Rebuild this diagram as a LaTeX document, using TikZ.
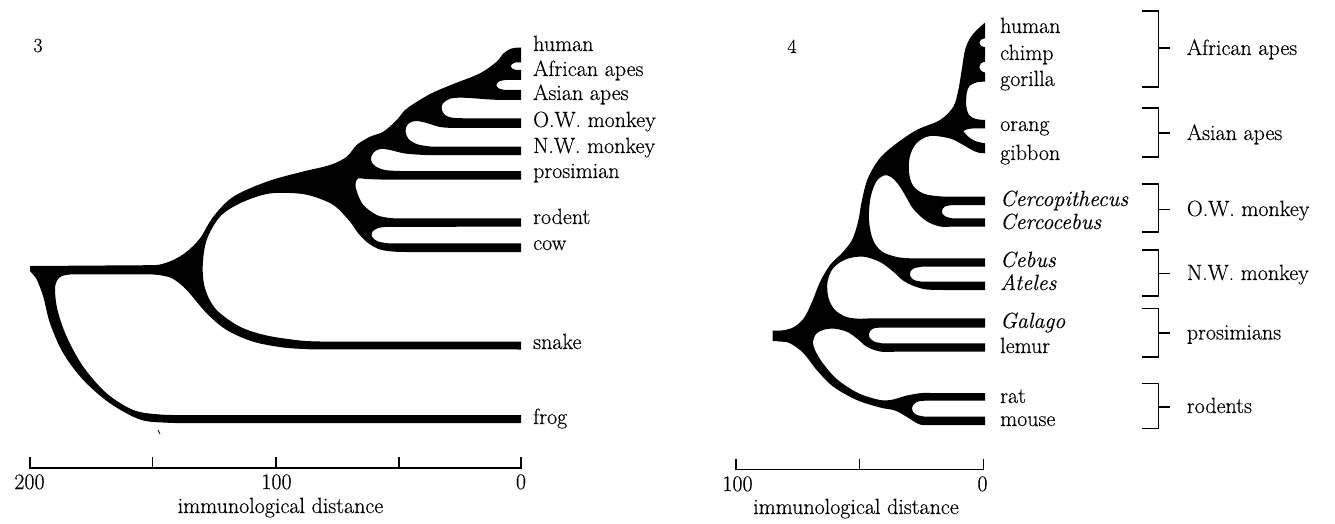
\documentclass[tikz,border=0pt]{standalone}
\usepackage{fontspec}
\setmainfont{Latin Modern Roman}[FakeBold=0.35]
\begin{document}
\begin{tikzpicture}[x=1pt,y=-1pt,
  lab/.style={anchor=base west, font=\fontsize{22}{24}\selectfont, inner sep=0pt},
  glab/.style={anchor=base west, font=\fontsize{22}{24}\selectfont, inner sep=0pt},
  num/.style={anchor=base, font=\fontsize{22}{24}\selectfont, inner sep=0pt},
  fignum/.style={anchor=base, font=\fontsize{20}{22}\selectfont, inner sep=0pt},
  axisline/.style={line width=1.2pt, line cap=butt},
  bracket/.style={line width=1.6pt, line join=miter},
  tree/.style={fill=black},
  smooth/.append style={tension=0.55}]
\useasboundingbox (0,0) rectangle (1335,524);

% ---------------- Figure 3 ----------------
\fill[tree] (521,47.5)
 -- plot[smooth] coordinates {(521,47.5) (511.7,48.5) (503.3,53.5) (496.7,61.7) (480,73.3) (453.3,84) (432,93) (415,103) (405,110) (396.7,120) (383.3,131.7) (370,136.7) (356.7,145) (346.7,156.7) (330,165) (300,172.3) (266.7,181.7) (233.3,196.7) (213.3,216.7) (200,238.3) (186.7,251.7) (173.3,260) (160,264.5) (150,265.2)}
 -- (30,266) -- (30,271)
 -- plot[smooth] coordinates {(30,271) (33,274.5) (37,280) (43.3,296.7) (50,323.3) (63.3,353.3) (83.3,380) (110,403.3) (140,419.5) (166.7,422.7) (190,423)}
 -- (521,423) -- (521,415) -- (190,415)
 -- plot[smooth] coordinates {(190,415) (160,414.5) (133.3,410) (106.7,393.3) (83.3,366.7) (66.7,336.7) (57.5,310) (55,290) (57,280.5) (62,276) (70,274.5) (80,274.3)}
 -- (150,274.3)
 -- plot[smooth] coordinates {(150,274.3) (162,275.5) (173.3,279) (186.7,290) (206.7,313.3) (226.7,330) (253.3,341.7) (283.3,347.5) (310,349.3)}
 -- (521,349.5) -- (521,341.5) -- (320,341.5)
 -- plot[smooth] coordinates {(320,341.5) (300,340.5) (266.7,335.5) (240,326.7) (216.7,310) (205.5,290) (202.7,266.7) (206.7,240) (220,216.7) (240,203.3) (266.7,194) (290,193) (310,195.5) (333.3,205) (350,221.7) (358,233) (368,243) (380,249.5) (395,251.7) (410,252)}
 -- (521,252) -- (521,243.3) -- (388,243.3)
 -- plot[smooth] coordinates {(388,243.3) (378,241.5) (372.5,237.5) (371.5,234.8) (372.5,231.5) (378,228) (388,226.8)}
 -- (521,226.7) -- (521,218.3) -- (400,218.3)
 -- plot[smooth] coordinates {(400,218.3) (390,218) (376.7,215) (363.3,205) (357,192) (355.5,184) (358,178.5) (366,179) (380,179.5)}
 -- (521,179.5) -- (521,171) -- (400,171)
 -- plot[smooth] coordinates {(400,171) (385,170) (375,166) (371,160) (373,153) (380,149) (390,150) (405,153.5) (425,155)}
 -- (521,155) -- (521,146.7) -- (432,146.7)
 -- plot[smooth] coordinates {(432,146.7) (418,144.5) (408.5,139) (405.5,131) (408,124) (415,121) (425,122.5) (440,127) (455,128)}
 -- (521,128) -- (521,118.3) -- (465,118.3)
 -- plot[smooth] coordinates {(465,118.3) (452,117.7) (445,115) (442,110) (442.5,104) (450,98.7) (463,97.7) (487,99.3) (500,100)}
 -- (521,100) -- (521,90) -- (505,90)
 -- plot[smooth] coordinates {(505,90) (499,88.5) (496.3,85) (499,81.5) (505,80)}
 -- (521,80) -- (521,70) -- (516,70)
 -- plot[smooth] coordinates {(516,70) (512,68.3) (510.8,66.2) (512,64) (516,62.3)}
 -- (521,62.3) -- cycle;

% small scan mark
\draw[line width=0.7pt] (158,430) -- (160,434);

\node[fignum] (n3) at (38,52) {3};
\node[lab] (t3a) at (533,51) {human};
\node[lab] (t3b) at (533,76) {African apes};
\node[lab] (t3c) at (533,100) {Asian apes};
\node[lab] (t3d) at (533,127) {O.W. monkey};
\node[lab] (t3e) at (533,153) {N.W. monkey};
\node[lab] (t3f) at (533,178) {prosimian};
\node[lab] (t3g) at (533,224) {rodent};
\node[lab] (t3h) at (533,250) {cow};
\node[lab] (t3i) at (533,349) {snake};
\node[lab] (t3j) at (533,424) {frog};

% axis 3
\draw[axisline] (30,457) -- (30,468) -- (521,468) -- (521,457);
\draw[axisline] (152.5,457) -- (152.5,468);
\draw[axisline] (276,457) -- (276,468);
\draw[axisline] (399,457) -- (399,468);
\node[num] (a3a) at (29.5,489) {200};
\node[num] (a3b) at (276.5,489) {100};
\node[num] (a3c) at (521,489) {0};
\node[num] (a3d) at (280.5,513) {immunological distance};

% ---------------- Figure 4 ----------------
\fill[tree] (985,22.7)
 -- plot[smooth] coordinates {(985,22.7) (976.7,30) (970,38.3) (965,50) (961.7,70) (958.3,90) (953.3,106.7) (940,120) (916.7,130) (896.7,143.3) (880,158) (868,178) (862,200) (858,222) (852,240) (842,253) (830,265) (820,282) (812,302) (804,318) (794,327) (783,330.3) (775,330.5)}
 -- (772.5,330.5) -- (772.5,341)
 -- plot[smooth] coordinates {(772.5,341) (780,341.5) (790,343.3) (803.3,353) (816.7,370) (833.3,386.7) (856.7,400) (880,407.5) (895,410.5) (907,417) (920,424.5) (935,425)}
 -- (985,425) -- (985,416.7) -- (925,416.7)
 -- plot[smooth] coordinates {(925,416.7) (917,415) (913,412) (912,408.7) (913.5,404.5) (918,401.5) (925,400.7)}
 -- (985,400.7) -- (985,393) -- (930,393)
 -- plot[smooth] coordinates {(930,393) (920,393.2) (905,396) (893,399.5) (880,400) (858,393) (836.7,379) (822,362) (815,350) (813,342) (816,334) (823,330) (833.3,328.5) (846.7,331.7) (856.7,338.3) (866.7,346.7) (880,351.5) (895,351.7)}
 -- (985,351.7) -- (985,343.3) -- (882,343.3)
 -- plot[smooth] coordinates {(882,343.3) (874,341.5) (869.5,337.5) (869,335.3) (870,331) (874,328.3) (882,327.5)}
 -- (985,327.5) -- (985,318.3) -- (880,318.3)
 -- plot[smooth] coordinates {(880,318.3) (870,318.3) (860,318.8) (846.7,317) (835,310) (828.5,298) (827.5,282) (833.3,268) (846.7,259) (863.3,256.7) (880,262) (893,271.5) (903,280.5) (915,286.5) (926.7,289.5) (945,290)}
 -- (985,290) -- (985,281.7) -- (922,281.7)
 -- plot[smooth] coordinates {(922,281.7) (914,280) (910.5,276.5) (910,274.2) (910.5,271.5) (914,268.3) (922,266.7)}
 -- (985,266.7) -- (985,258.3) -- (910,258.3)
 -- plot[smooth] coordinates {(910,258.3) (896.7,257) (882,251.5) (873,240) (869,220) (870.5,198) (876,182) (884,175.5) (891,177) (898,184) (905,195) (913.3,209) (926.7,221.3) (940,226.5) (950,226.7)}
 -- (985,226.7) -- (985,218.3) -- (952,218.3)
 -- plot[smooth] coordinates {(952,218.3) (945.5,216.5) (942.3,213.5) (942,211.7) (942.5,209) (945.5,206.3) (952,205)}
 -- (985,205) -- (985,196.7) -- (950,196.7)
 -- plot[smooth] coordinates {(950,196.7) (938,196.2) (923.3,193.5) (913,185.5) (909,172) (910,156) (916.7,143) (930,136) (950,138.5) (963.3,145) (973.3,150.8) (980,153)}
 -- (985,153.3) -- (985,143.3)
 -- plot[smooth] coordinates {(985,143.3) (975,141) (967.5,136) (963.3,131)}
 -- plot[smooth] coordinates {(963.3,131) (968,129) (976,128.3) (985,128.3)}
 -- (985,120)
 -- plot[smooth] coordinates {(985,120) (976,119) (969.5,115.5) (966.3,106.7) (966.7,93.3) (969.5,86) (976.7,82.3) (985,81.7)}
 -- (985,72.5)
 -- plot[smooth] coordinates {(985,72.5) (981.3,71) (979.4,67) (981.3,63) (985,61.7)}
 -- (985,47.3)
 -- plot[smooth] coordinates {(985,47.3) (981.3,46) (979.4,42.8) (981.3,39.5) (985,38.3)}
 -- cycle;

\node[fignum] (n4) at (792,53) {4};
\node[lab] (t4a) at (1000,33) {human};
\node[lab] (t4b) at (1000,60) {chimp};
\node[lab] (t4c) at (1000,86) {gorilla};
\node[lab] (t4d) at (1000,131) {orang};
\node[lab] (t4e) at (1000,160) {gibbon};
\node[lab] (t4f) at (1000,206) {\itshape Cercopithecus};
\node[lab] (t4g) at (1000,229) {\itshape Cercocebus};
\node[lab] (t4h) at (1000,267) {\itshape Cebus};
\node[lab] (t4i) at (1000,290) {\itshape Ateles};
\node[lab] (t4j) at (1000,328) {\itshape Galago};
\node[lab] (t4k) at (1000,353) {lemur};
\node[lab] (t4l) at (1000,403) {rat};
\node[lab] (t4m) at (1000,426) {mouse};

% brackets
\foreach \t/\b/\m in {11/87.3/48.3, 108.3/156.7/133.3, 184/231.7/209.3, 250/296/273.3, 308.3/356.7/332.7, 383.3/428.3/406.7}{
  \draw[bracket] (1141.7,\t) -- (1158.3,\t) -- (1158.3,\b) -- (1141.7,\b);
  \draw[bracket] (1158.3,\m) -- (1170,\m);
}
\node[glab] (g1) at (1186.7,55) {African apes};
\node[glab] (g2) at (1186.7,140) {Asian apes};
\node[glab] (g3) at (1186.7,216) {O.W. monkey};
\node[glab] (g4) at (1186.7,280) {N.W. monkey};
\node[glab] (g5) at (1186.7,339.5) {prosimians};
\node[glab] (g6) at (1186.7,413) {rodents};

% axis 4
\draw[axisline] (736,459.3) -- (736,469.3) -- (983.3,469.3) -- (983.3,459.3);
\draw[axisline] (859.5,459.3) -- (859.5,469.3);
\node[num] (a4a) at (737.5,491) {100};
\node[num] (a4b) at (982.5,491) {0};
\node[num] (a4c) at (856,514) {immunological distance};
\end{tikzpicture}
\end{document}
